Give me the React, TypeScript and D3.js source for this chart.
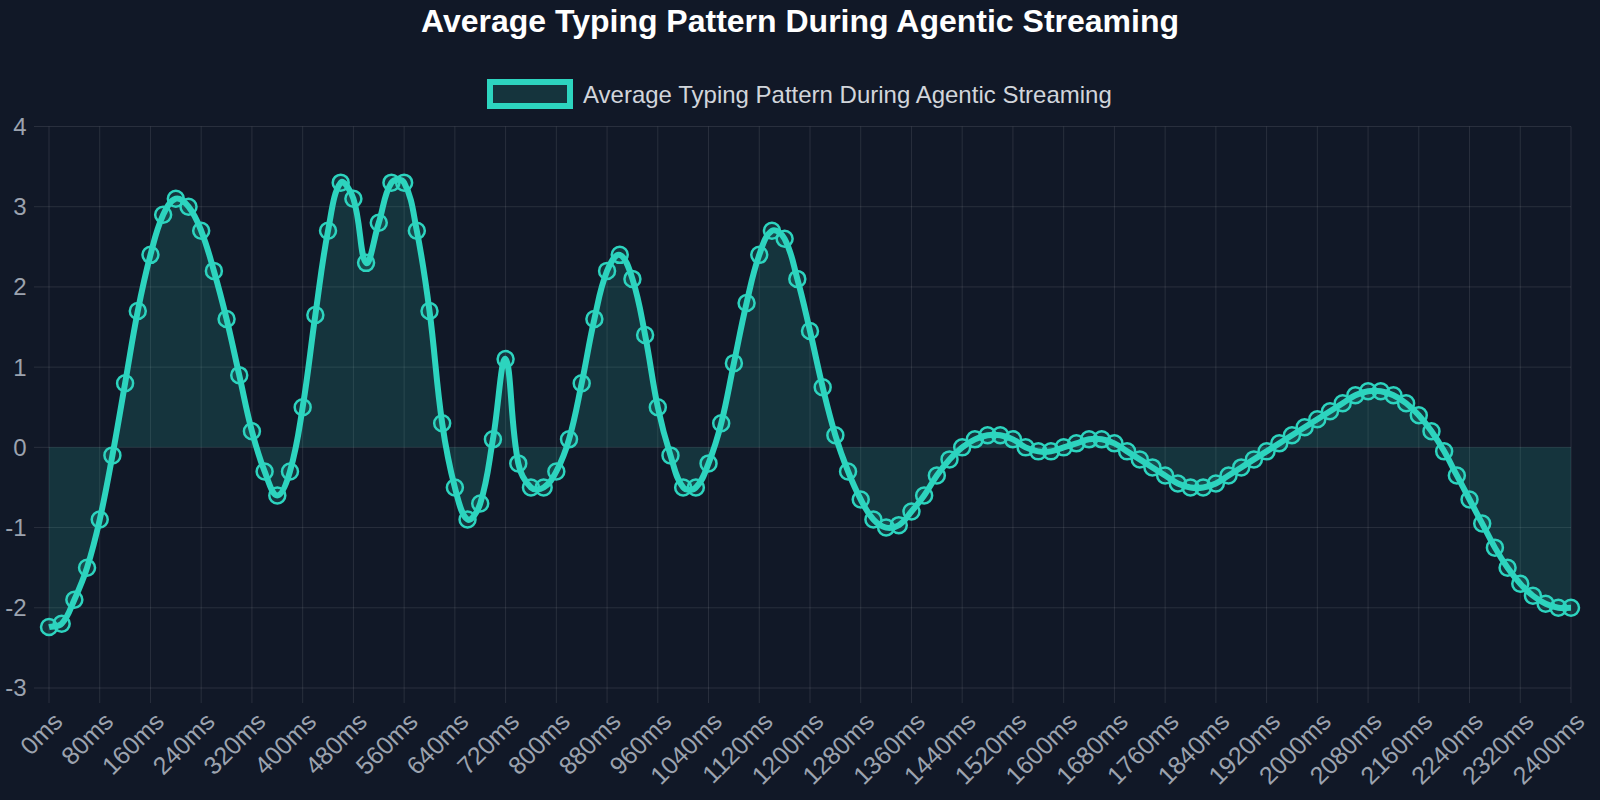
import React from 'react';
import * as d3 from 'd3';

const TITLE = 'Average Typing Pattern During Agentic Streaming';
const SERIES_LABEL = 'Average Typing Pattern During Agentic Streaming';

const timesMs = [
  0, 20, 40, 60, 80, 100, 120, 140, 160, 180, 200, 220, 240, 260, 280, 300, 320, 340, 360, 380,
  400, 420, 440, 460, 480, 500, 520, 540, 560, 580, 600, 620, 640, 660, 680, 700, 720, 740, 760, 780,
  800, 820, 840, 860, 880, 900, 920, 940, 960, 980, 1000, 1020, 1040, 1060, 1080, 1100, 1120, 1140, 1160, 1180,
  1200, 1220, 1240, 1260, 1280, 1300, 1320, 1340, 1360, 1380, 1400, 1420, 1440, 1460, 1480, 1500, 1520, 1540, 1560, 1580,
  1600, 1620, 1640, 1660, 1680, 1700, 1720, 1740, 1760, 1780, 1800, 1820, 1840, 1860, 1880, 1900, 1920, 1940, 1960, 1980,
  2000, 2020, 2040, 2060, 2080, 2100, 2120, 2140, 2160, 2180, 2200, 2220, 2240, 2260, 2280, 2300, 2320, 2340, 2360, 2380,
  2400,
];

const values = [
  -2.24, -2.2, -1.9, -1.5, -0.9, -0.1, 0.8, 1.7, 2.4, 2.9,
  3.1, 3.0, 2.7, 2.2, 1.6, 0.9, 0.2, -0.3, -0.6, -0.3,
  0.5, 1.65, 2.7, 3.3, 3.1, 2.3, 2.8, 3.3, 3.3, 2.7,
  1.7, 0.3, -0.5, -0.9, -0.7, 0.1, 1.1, -0.2, -0.5, -0.5,
  -0.3, 0.1, 0.8, 1.6, 2.2, 2.4, 2.1, 1.4, 0.5, -0.1,
  -0.5, -0.5, -0.2, 0.3, 1.05, 1.8, 2.4, 2.7, 2.6, 2.1,
  1.45, 0.75, 0.15, -0.3, -0.65, -0.9, -1.0, -0.97, -0.8, -0.6,
  -0.35, -0.15, 0.0, 0.1, 0.15, 0.15, 0.1, 0.0, -0.05, -0.05,
  0.0, 0.05, 0.1, 0.1, 0.05, -0.05, -0.15, -0.25, -0.35, -0.45,
  -0.5, -0.5, -0.45, -0.35, -0.25, -0.15, -0.05, 0.05, 0.15, 0.25,
  0.35, 0.45, 0.55, 0.65, 0.7, 0.7, 0.65, 0.55, 0.4, 0.2,
  -0.05, -0.35, -0.65, -0.95, -1.25, -1.5, -1.7, -1.85, -1.95, -2.0,
  -2.0,
];

const xTickMs = [
  0, 80, 160, 240, 320, 400, 480, 560, 640, 720, 800, 880, 960, 1040, 1120, 1200,
  1280, 1360, 1440, 1520, 1600, 1680, 1760, 1840, 1920, 2000, 2080, 2160, 2240, 2320, 2400,
];
const yTicks = [-3, -2, -1, 0, 1, 2, 3, 4];

const BG = '#111827';
const TEAL = '#2dd4bf';
const FILL = 'rgba(45,212,191,0.15)';
const GRID = 'rgba(255,255,255,0.1)';
const TICK_TEXT = '#9ca3af';
const FONT = '"Liberation Sans", Arial, Helvetica, sans-serif';

const LEFT = 49, RIGHT = 1571, TOP = 126.5, BOTTOM = 688;
const TICK_LEN = 15;

type P = [number, number];

function splinePath(pts: P[], t: number, path: d3.Path, moveFirst: boolean) {
  const cap = (v: number, lo: number, hi: number) => Math.max(lo, Math.min(hi, v));
  const cps = pts.map((p, i) => {
    const prev = pts[i - 1] ?? p;
    const next = pts[i + 1] ?? p;
    const d01 = Math.hypot(p[0] - prev[0], p[1] - prev[1]);
    const d12 = Math.hypot(next[0] - p[0], next[1] - p[1]);
    let s01 = d01 / (d01 + d12);
    let s12 = d12 / (d01 + d12);
    if (isNaN(s01)) s01 = 0;
    if (isNaN(s12)) s12 = 0;
    const fa = t * s01, fb = t * s12;
    return {
      pc: [cap(p[0] - fa * (next[0] - prev[0]), LEFT, RIGHT), cap(p[1] - fa * (next[1] - prev[1]), TOP, BOTTOM)] as P,
      nc: [cap(p[0] + fb * (next[0] - prev[0]), LEFT, RIGHT), cap(p[1] + fb * (next[1] - prev[1]), TOP, BOTTOM)] as P,
    };
  });
  pts.forEach((p, i) => {
    if (i === 0) {
      if (moveFirst) path.moveTo(p[0], p[1]);
      else path.lineTo(p[0], p[1]);
    } else {
      const a = cps[i - 1].nc, b = cps[i].pc;
      path.bezierCurveTo(a[0], a[1], b[0], b[1], p[0], p[1]);
    }
  });
  return path;
}

export default function App() {
  const x = d3.scaleLinear().domain([0, 2400]).range([LEFT, RIGHT]);
  const y = d3.scaleLinear().domain([-3, 4]).range([BOTTOM, TOP]);
  const pts: P[] = values.map((v, i) => [x(timesMs[i]), y(v)]);

  const linePath = splinePath(pts, 0.4, d3.path(), true).toString();
  const fp = d3.path();
  fp.moveTo(pts[0][0], y(0));
  splinePath(pts, 0.4, fp, false);
  fp.lineTo(pts[pts.length - 1][0], y(0));
  fp.closePath();
  const fillPath = fp.toString();

  return (
    <div style={{ position: 'fixed', left: 0, top: 0, width: 1600, height: 800, background: BG }}>
      <svg width={1600} height={800} style={{ display: 'block' }} fontFamily={FONT}>
        <rect width={1600} height={800} fill={BG} />
        <text x={800} y={32} textAnchor="middle" fill="#ffffff" fontSize={32} fontWeight="bold">
          {TITLE}
        </text>
        <rect x={490} y={82} width={80} height={24} fill={FILL} stroke={TEAL} strokeWidth={6} />
        <text x={583} y={102.5} fill="#d1d5db" fontSize={24}>
          {SERIES_LABEL}
        </text>

        {yTicks.map((v) => (
          <g key={'y' + v}>
            <line x1={LEFT - TICK_LEN} x2={RIGHT} y1={y(v)} y2={y(v)} stroke={GRID} strokeWidth={1} />
            <text x={26.5} y={y(v)} dy="0.35em" textAnchor="end" fill={TICK_TEXT} fontSize={24}>
              {v}
            </text>
          </g>
        ))}
        {xTickMs.map((ms) => (
          <g key={'x' + ms}>
            <line x1={x(ms)} x2={x(ms)} y1={TOP} y2={BOTTOM + TICK_LEN} stroke={GRID} strokeWidth={1} />
            <text
              transform={`translate(${x(ms) + 9},${BOTTOM + 29}) rotate(-45)`}
              textAnchor="end"
              dy="0.35em"
              fill={TICK_TEXT}
              fontSize={25}
            >
              {ms + 'ms'}
            </text>
          </g>
        ))}

        <path d={fillPath} fill={FILL} stroke="none" />
        <path d={linePath} fill="none" stroke={TEAL} strokeWidth={6} strokeLinejoin="round" />
        {pts.map((p, i) => (
          <circle key={i} cx={p[0]} cy={p[1]} r={8} fill={FILL} stroke={TEAL} strokeWidth={2.5} />
        ))}
      </svg>
    </div>
  );
}
